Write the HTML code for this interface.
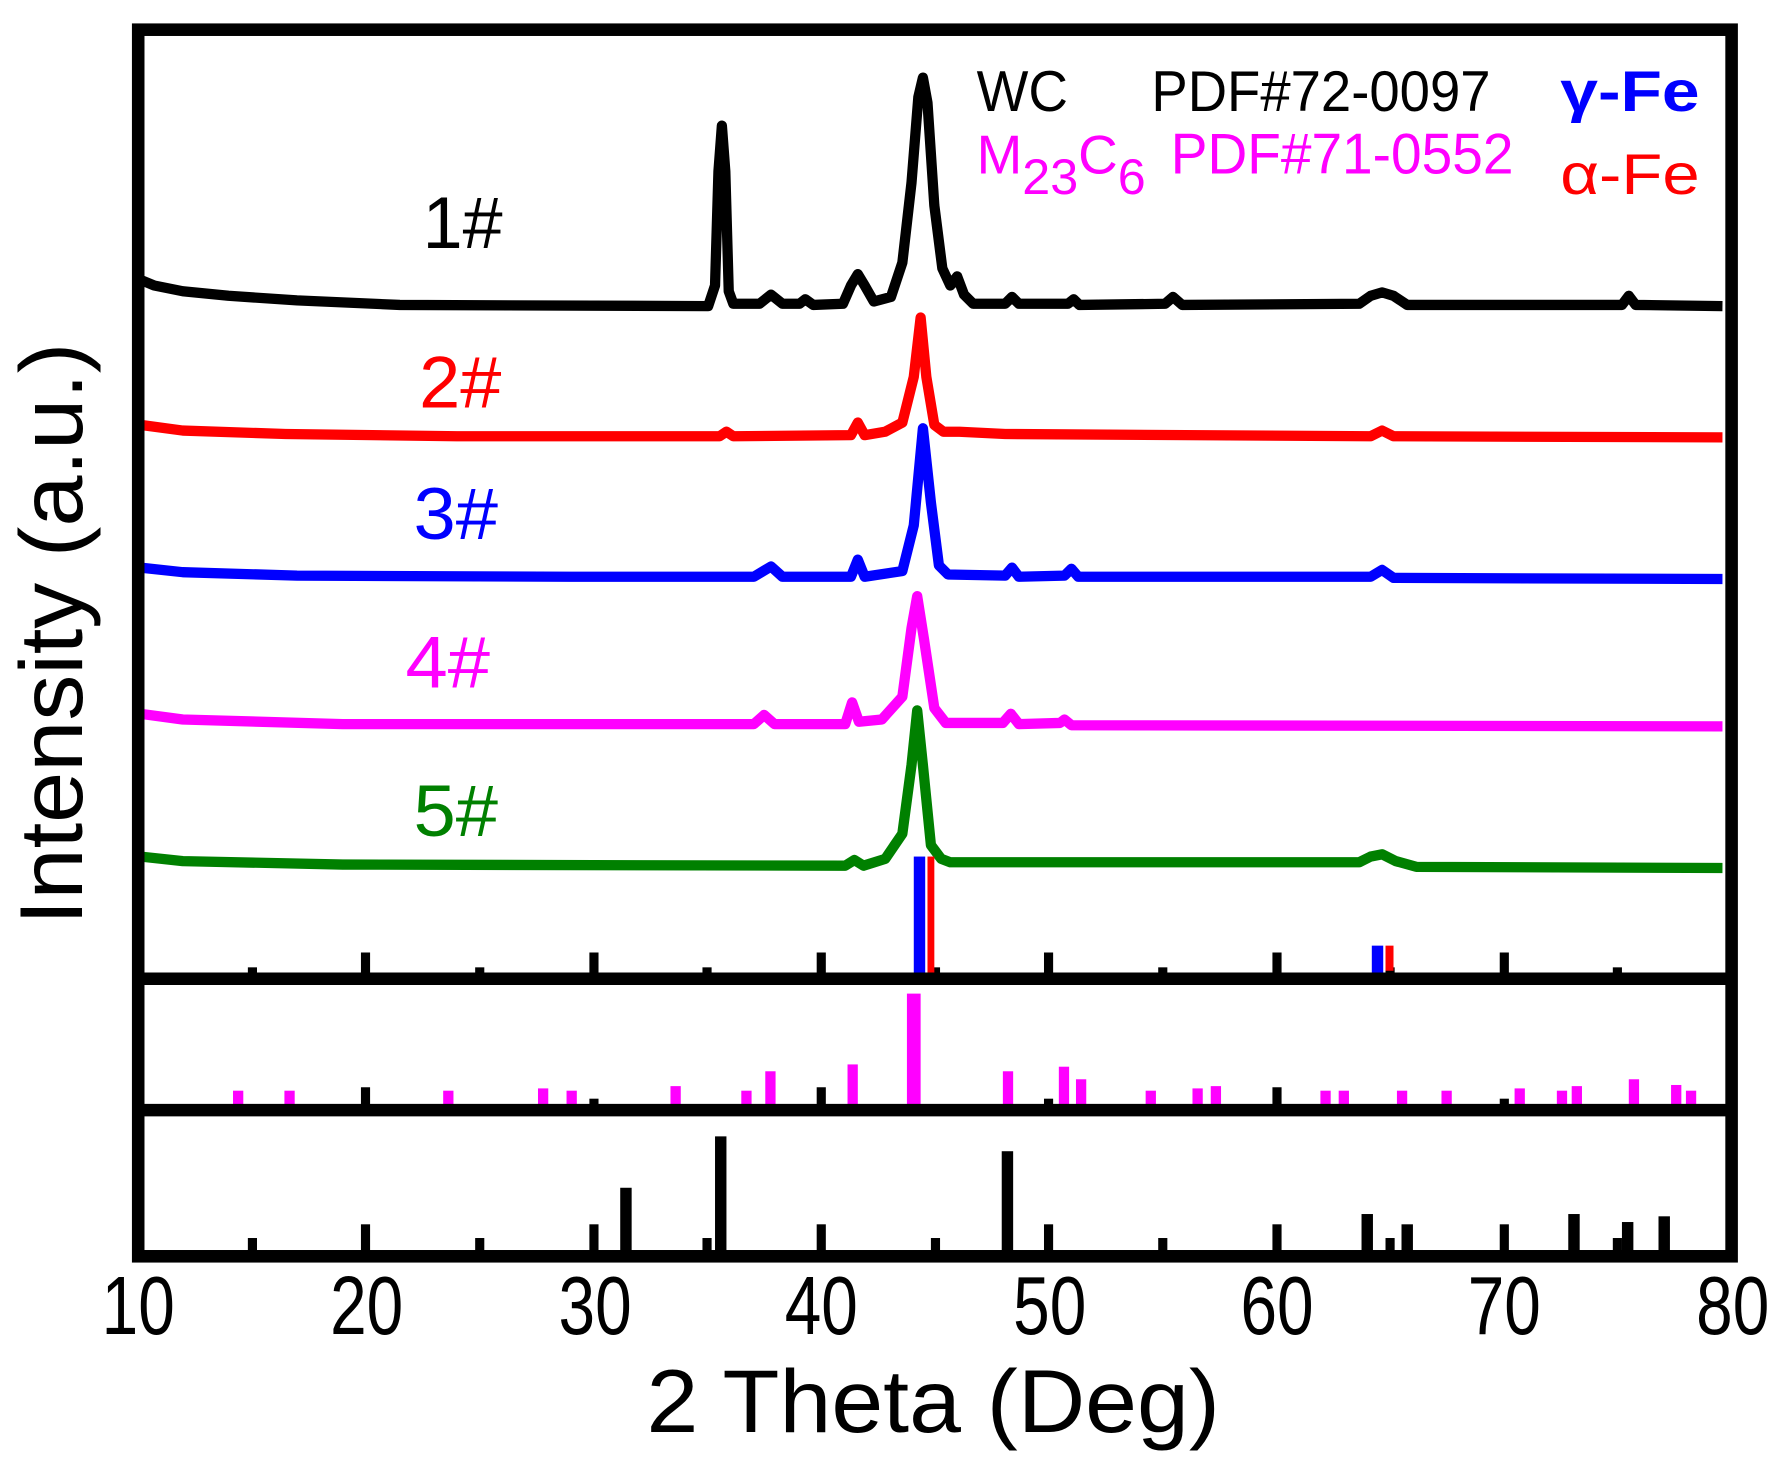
<!DOCTYPE html>
<html><head><meta charset="utf-8"><style>
html,body{margin:0;padding:0;background:#fff;}
svg{display:block;}
text{font-family:"Liberation Sans",Arial,sans-serif;}
</style></head><body>
<svg width="1791" height="1471" viewBox="0 0 1568 1288" preserveAspectRatio="none" xmlns="http://www.w3.org/2000/svg">
<g fill="none" stroke-width="9" stroke-linejoin="round">
<path stroke="#000" d="M123,245 L135,250 L160,255 L200,259 L260,263 L350,267 L620,268 L626,250 L629,150 L632,110 L635,150 L638,255 L642,266 L665,266 L675,258 L685,266 L700,266 L705,262 L712,267 L738,266 L745,250 L751,240 L757,250 L765,264 L780,260 L790,230 L798,160 L804,85 L808,68 L812,90 L818,180 L825,235 L832,250 L838,242 L844,258 L852,266 L880,266 L886,260 L892,266 L935,266 L940,262 L945,267 L1020,266 L1027,260 L1035,267 L1190,266 L1200,259 L1210,256 L1220,259 L1232,267 L1420,267 L1426,259 L1432,267 L1508,268"/>
<path stroke="#ff0000" d="M123,372 L160,377 L250,380 L400,382 L630,382 L636,378 L642,382 L745,381 L751,370 L757,381 L775,378 L790,370 L800,330 L806,278 L811,330 L818,372 L826,378 L840,378 L880,380 L1200,382 L1210,377 L1220,382 L1508,383"/>
<path stroke="#0000ff" d="M123,497 L160,501 L260,504 L500,505 L660,505 L675,496 L685,505 L745,505 L751,490 L757,505 L790,500 L800,460 L808,375 L815,440 L822,495 L830,503 L880,504 L886,497 L892,505 L932,504 L938,498 L944,505 L1200,505 L1210,499 L1220,506 L1508,507"/>
<path stroke="#ff00ff" d="M123,625 L160,630 L300,634 L660,634 L669,626 L678,634 L740,634 L746,615 L752,632 L772,630 L790,610 L798,550 L803,522 L809,560 L818,620 L828,633 L878,633 L885,625 L892,634 L928,633 L932,630 L938,635 L1508,636"/>
<path stroke="#008000" d="M123,750 L160,754 L300,757 L740,758 L748,753 L756,758 L775,752 L790,730 L798,670 L803,622 L808,670 L815,740 L824,752 L832,755 L1190,755 L1200,750 L1210,748 L1222,754 L1240,759 L1508,760"/>
</g>
<g fill="#000">
<rect x="217" y="847" width="8" height="10"/><rect x="316" y="834" width="8" height="23"/><rect x="416" y="847" width="8" height="10"/><rect x="516" y="834" width="8" height="23"/><rect x="615" y="847" width="8" height="10"/><rect x="715" y="834" width="8" height="23"/><rect x="815" y="847" width="8" height="10"/><rect x="914" y="834" width="8" height="23"/><rect x="1014" y="847" width="8" height="10"/><rect x="1114" y="834" width="8" height="23"/><rect x="1213" y="847" width="8" height="10"/><rect x="1313" y="834" width="8" height="23"/><rect x="1412" y="847" width="8" height="10"/>
<rect x="316" y="952" width="8" height="20"/><rect x="516" y="962" width="8" height="10"/><rect x="715" y="952" width="8" height="20"/><rect x="914" y="962" width="8" height="10"/><rect x="1114" y="952" width="8" height="20"/><rect x="1313" y="962" width="8" height="10"/>
<rect x="217" y="1084" width="8" height="16"/><rect x="316" y="1072" width="8" height="28"/><rect x="416" y="1084" width="8" height="16"/><rect x="516" y="1072" width="8" height="28"/><rect x="615" y="1084" width="8" height="16"/><rect x="715" y="1072" width="8" height="28"/><rect x="815" y="1084" width="8" height="16"/><rect x="914" y="1072" width="8" height="28"/><rect x="1014" y="1084" width="8" height="16"/><rect x="1114" y="1072" width="8" height="28"/><rect x="1213" y="1084" width="8" height="16"/><rect x="1313" y="1072" width="8" height="28"/><rect x="1412" y="1084" width="8" height="16"/>
<rect x="543" y="1040" width="10" height="60"/><rect x="626" y="995" width="10" height="105"/><rect x="877" y="1008" width="10" height="92"/><rect x="1192" y="1063" width="10" height="37"/><rect x="1227" y="1072" width="10" height="28"/><rect x="1373" y="1063" width="10" height="37"/><rect x="1420" y="1070" width="10" height="30"/><rect x="1452" y="1065" width="10" height="35"/>
</g>
<rect x="800" y="750" width="10" height="107" fill="#0000ff"/><rect x="812" y="750" width="6" height="107" fill="#ff0000"/>
<rect x="1201" y="828" width="10" height="29" fill="#0000ff"/><rect x="1213" y="828" width="7" height="22" fill="#ff0000"/>
<g fill="#ff00ff">
<rect x="204" y="955" width="9" height="17"/><rect x="249" y="955" width="9" height="17"/><rect x="388" y="955" width="9" height="17"/><rect x="471" y="953" width="9" height="19"/><rect x="496" y="955" width="9" height="17"/><rect x="587" y="951" width="9" height="21"/><rect x="649" y="955" width="9" height="17"/><rect x="670" y="938" width="9" height="34"/><rect x="742" y="932" width="9" height="40"/><rect x="794" y="870" width="12" height="102"/><rect x="878" y="938" width="9" height="34"/><rect x="927" y="934" width="9" height="38"/><rect x="942" y="945" width="9" height="27"/><rect x="1003" y="955" width="9" height="17"/><rect x="1044" y="953" width="9" height="19"/><rect x="1060" y="951" width="9" height="21"/><rect x="1156" y="955" width="9" height="17"/><rect x="1172" y="955" width="9" height="17"/><rect x="1223" y="955" width="9" height="17"/><rect x="1262" y="955" width="9" height="17"/><rect x="1326" y="953" width="9" height="19"/><rect x="1363" y="955" width="9" height="17"/><rect x="1376" y="951" width="9" height="21"/><rect x="1426" y="945" width="9" height="27"/><rect x="1463" y="950" width="9" height="22"/><rect x="1476" y="955" width="9" height="17"/>
</g>
<rect x="121" y="26" width="1395" height="1074" fill="none" stroke="#000" stroke-width="11"/>
<line x1="121" y1="857" x2="1516" y2="857" stroke="#000" stroke-width="11"/>
<line x1="121" y1="972" x2="1516" y2="972" stroke="#000" stroke-width="11"/>
<g font-size="72" text-anchor="middle">
<text x="121" y="1168" textLength="64" lengthAdjust="spacingAndGlyphs">10</text>
<text x="321" y="1168" textLength="64" lengthAdjust="spacingAndGlyphs">20</text>
<text x="521" y="1168" textLength="64" lengthAdjust="spacingAndGlyphs">30</text>
<text x="719" y="1168" textLength="64" lengthAdjust="spacingAndGlyphs">40</text>
<text x="919" y="1168" textLength="64" lengthAdjust="spacingAndGlyphs">50</text>
<text x="1118" y="1168" textLength="64" lengthAdjust="spacingAndGlyphs">60</text>
<text x="1317" y="1168" textLength="64" lengthAdjust="spacingAndGlyphs">70</text>
<text x="1517" y="1168" textLength="64" lengthAdjust="spacingAndGlyphs">80</text>
</g>
<text x="566" y="1254" font-size="78" textLength="502" lengthAdjust="spacingAndGlyphs">2 Theta (Deg)</text>
<text transform="translate(72,810) rotate(-90)" font-size="78" textLength="510" lengthAdjust="spacingAndGlyphs">Intensity (a.u.)</text>
<g font-size="50">
<text x="855" y="97" textLength="80" lengthAdjust="spacingAndGlyphs">WC</text>
<text x="1008" y="97" textLength="297" lengthAdjust="spacingAndGlyphs">PDF#72-0097</text>
<text x="1366" y="97" fill="#0000ff" font-weight="bold" textLength="122" lengthAdjust="spacingAndGlyphs">γ-Fe</text>
<text x="855" y="152" fill="#ff00ff" font-size="48">M<tspan font-size="44" dy="18">23</tspan><tspan dy="-18">C</tspan><tspan font-size="44" dy="18">6</tspan></text>
<text x="1025" y="152" fill="#ff00ff" textLength="300" lengthAdjust="spacingAndGlyphs">PDF#71-0552</text>
<text x="1366" y="170" fill="#ff0000" textLength="122" lengthAdjust="spacingAndGlyphs">α-Fe</text>
</g>
<g font-size="64">
<text x="370" y="217" textLength="70" lengthAdjust="spacingAndGlyphs">1#</text>
<text x="367" y="357" fill="#ff0000" textLength="72" lengthAdjust="spacingAndGlyphs">2#</text>
<text x="362" y="472" fill="#0000ff" textLength="74" lengthAdjust="spacingAndGlyphs">3#</text>
<text x="355" y="602" fill="#ff00ff" textLength="74" lengthAdjust="spacingAndGlyphs">4#</text>
<text x="362" y="732" fill="#008000" textLength="74" lengthAdjust="spacingAndGlyphs">5#</text>
</g>
</svg>
</body></html>
